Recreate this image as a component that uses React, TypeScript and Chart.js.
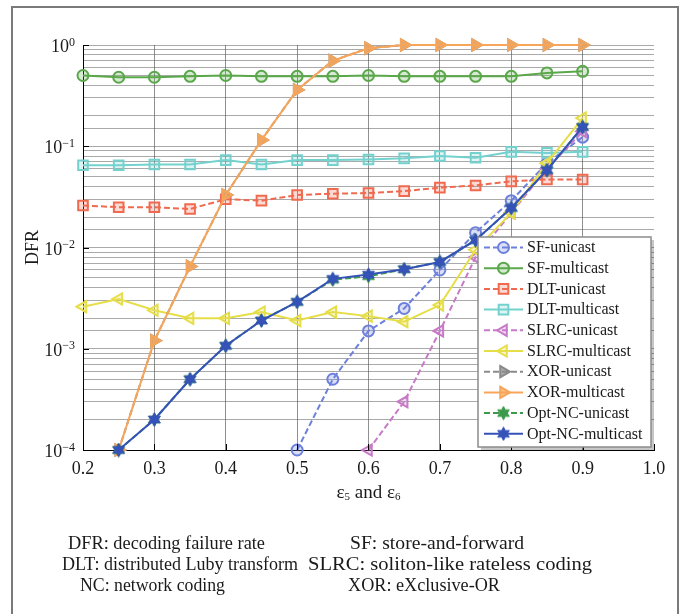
import React, { useEffect, useRef } from 'react';
import { Chart, registerables } from 'chart.js';
import { drawPoint } from 'chart.js/helpers';

Chart.register(...registerables);

// ---------- data ----------
const EPSILON = [0.2, 0.25, 0.3, 0.35, 0.4, 0.45, 0.5, 0.55, 0.6, 0.65, 0.7, 0.75, 0.8, 0.85, 0.9];
const SF_UNICAST = [null, null, null, null, null, null, 1e-4, 5e-4, 1.5e-3, 2.5e-3, 6e-3, 1.4e-2, 2.9e-2, 6.8e-2, 1.23e-1];
const SF_MULTICAST = [0.5, 0.48, 0.48, 0.49, 0.5, 0.49, 0.49, 0.49, 0.5, 0.49, 0.49, 0.49, 0.49, 0.53, 0.55];
const DLT_UNICAST = [0.026, 0.025, 0.025, 0.024, 0.03, 0.029, 0.033, 0.034, 0.0345, 0.036, 0.039, 0.041, 0.045, 0.047, 0.047];
const DLT_MULTICAST = [0.065, 0.065, 0.066, 0.066, 0.073, 0.066, 0.073, 0.073, 0.074, 0.076, 0.08, 0.077, 0.088, 0.086, 0.088];
const SLRC_UNICAST = [null, null, null, null, null, null, null, null, 1e-4, 3e-4, 1.5e-3, 8e-3, 0.022, 0.06, 0.14];
const SLRC_MULTICAST = [0.0026, 0.0031, 0.0024, 0.002, 0.002, 0.0023, 0.0019, 0.0023, 0.0021, 0.00185, 0.0027, 0.0095, 0.022, 0.068, 0.19];
const XOR_UNICAST = [null, 1e-4, 0.0012, 0.0065, 0.033, 0.115, 0.36, 0.7, 0.93, 1, 1, 1, 1, 1, 1];
const XOR_MULTICAST = [null, 1e-4, 0.0012, 0.0065, 0.033, 0.115, 0.36, 0.7, 0.93, 1, 1, 1, 1, 1, 1];
const OPT_NC_UNICAST = [null, 1e-4, 2e-4, 5e-4, 1.07e-3, 1.9e-3, 2.9e-3, 4.8e-3, 5.2e-3, 6.1e-3, 7.2e-3, 0.0118, 0.0246, 0.058, 0.155];
const OPT_NC_MULTICAST = [null, 1e-4, 2e-4, 5e-4, 1.07e-3, 1.9e-3, 2.9e-3, 4.9e-3, 5.4e-3, 6.1e-3, 7.2e-3, 0.0118, 0.0246, 0.058, 0.155];

const SERIES_NAMES = [
  'SF-unicast', 'SF-multicast', 'DLT-unicast', 'DLT-multicast', 'SLRC-unicast',
  'SLRC-multicast', 'XOR-unicast', 'XOR-multicast', 'Opt-NC-unicast', 'Opt-NC-multicast',
];
const SERIES_VALUES = [
  SF_UNICAST, SF_MULTICAST, DLT_UNICAST, DLT_MULTICAST, SLRC_UNICAST,
  SLRC_MULTICAST, XOR_UNICAST, XOR_MULTICAST, OPT_NC_UNICAST, OPT_NC_MULTICAST,
];

const X_TICKS = [0.2, 0.3, 0.4, 0.5, 0.6, 0.7, 0.8, 0.9, 1.0];
const Y_TICK_EXPONENTS = [0, -1, -2, -3, -4];
const Y_TITLE = 'DFR';
const X_TITLE_PARTS = [
  { t: 'ε', sub: false }, { t: '5', sub: true }, { t: ' and ', sub: false },
  { t: 'ε', sub: false }, { t: '6', sub: true },
];
const FOOTNOTES = [
  'DFR: decoding failure rate', 'SF: store-and-forward',
  'DLT: distributed Luby transform', 'SLRC: soliton-like rateless coding',
  'NC: network coding', 'XOR: eXclusive-OR',
];

// ---------- styles / layout ----------
const STYLES = [
  { color: '#6d80dc', dash: [6, 3], shape: 'circle', rot: 0 },
  { color: '#5aa84a', dash: [], shape: 'circle', rot: 0 },
  { color: '#f06a50', dash: [6, 3], shape: 'rect', rot: 0 },
  { color: '#74d2ce', dash: [], shape: 'rect', rot: 0 },
  { color: '#c77ac7', dash: [6, 3], shape: 'triangle', rot: -90 },
  { color: '#e6de48', dash: [], shape: 'triangle', rot: -90 },
  { color: '#8a8a8a', dash: [6, 3], shape: 'triangle', rot: 90 },
  { color: '#f7a559', dash: [], shape: 'triangle', rot: 90 },
  { color: '#3c9a4c', dash: [6, 3], shape: 'star', rot: 0 },
  { color: '#3552b8', dash: [], shape: 'star', rot: 0 },
];
const FOOT_POS = [
  { left: 68, top: 534, width: 197 }, { left: 350, top: 534, width: 174 },
  { left: 62, top: 555, width: 236 }, { left: 308, top: 555, width: 284 },
  { left: 80, top: 576, width: 145 }, { left: 348, top: 576, width: 152 },
];
const FONT = '"Liberation Serif", "DejaVu Serif", serif';

function hexA(hex: string, a: number) {
  const n = parseInt(hex.slice(1), 16);
  return `rgba(${(n >> 16) & 255},${(n >> 8) & 255},${n & 255},${a})`;
}

function makeStar(color: string, size = 15) {
  const c = document.createElement('canvas');
  c.width = size;
  c.height = size;
  const g = c.getContext('2d')!;
  const cx = size / 2, cy = size / 2, R = size / 2 - 0.8, r = R * 0.55;
  g.beginPath();
  for (let k = 0; k < 12; k++) {
    const a = -Math.PI / 2 + (k * Math.PI) / 6;
    const rad = k % 2 === 0 ? R : r;
    const px = cx + Math.cos(a) * rad, py = cy + Math.sin(a) * rad;
    if (k === 0) g.moveTo(px, py); else g.lineTo(px, py);
  }
  g.closePath();
  g.fillStyle = color;
  g.fill();
  g.lineWidth = 1;
  g.strokeStyle = color;
  g.stroke();
  return c;
}

function markerOpts(s: any, star: any) {
  if (s.shape === 'star') return { pointStyle: star, radius: 7, rotation: 0, borderWidth: 0 };
  const radius = s.shape === 'circle' ? 5.5 : s.shape === 'rect' ? 6.8 : 6.5;
  return { pointStyle: s.shape, radius, rotation: s.rot, borderWidth: 2 };
}

let measureCtx: CanvasRenderingContext2D | null = null;
function naturalWidth(text: string) {
  if (!measureCtx) measureCtx = document.createElement('canvas').getContext('2d');
  measureCtx!.font = `18px ${FONT}`;
  return measureCtx!.measureText(text).width;
}

export default function App() {
  const ref = useRef<HTMLCanvasElement | null>(null);

  useEffect(() => {
    const canvas = ref.current!;
    const stars = STYLES.map((s) => (s.shape === 'star' ? makeStar(s.color) : null));

    const datasets = SERIES_NAMES.map((name, i) => {
      const s = STYLES[i];
      const m = markerOpts(s, stars[i]);
      return {
        label: name,
        data: EPSILON.map((x, j) => ({ x, y: SERIES_VALUES[i][j] })),
        borderColor: s.color,
        backgroundColor: s.color,
        borderWidth: 2,
        borderDash: s.dash,
        pointStyle: m.pointStyle,
        pointRadius: m.radius,
        pointRotation: m.rotation,
        pointBorderWidth: m.borderWidth,
        pointBorderColor: s.color,
        pointBackgroundColor: s.shape === 'triangle' && s.rot === 90 ? hexA(s.color, 0.7) : hexA(s.color, 0.25),
        fill: false,
        tension: 0,
        spanGaps: false,
        clip: false,
        order: 20 - i,
      };
    });

    const overlay = {
      id: 'overlay',
      afterDraw(chart: any) {
        const { ctx, chartArea } = chart;
        const xs = chart.scales.x, ys = chart.scales.y;
        ctx.save();
        ctx.strokeStyle = '#000';
        ctx.lineWidth = 1;
        ctx.setLineDash([]);
        ctx.beginPath();
        X_TICKS.forEach((v) => {
          const px = Math.round(xs.getPixelForValue(v)) + 0.5;
          ctx.moveTo(px, chartArea.bottom);
          ctx.lineTo(px, chartArea.bottom - 6);
        });
        Y_TICK_EXPONENTS.forEach((e) => {
          const py = Math.round(ys.getPixelForValue(Math.pow(10, e))) + 0.5;
          ctx.moveTo(chartArea.left, py);
          ctx.lineTo(chartArea.left + 6, py);
        });
        ctx.stroke();

        ctx.fillStyle = '#1a1a1a';
        ctx.textAlign = 'left';
        ctx.textBaseline = 'alphabetic';
        Y_TICK_EXPONENTS.forEach((e) => {
          const py = ys.getPixelForValue(Math.pow(10, e));
          const exp = e === 0 ? '0' : '\u2212' + String(-e);
          ctx.font = `12px ${FONT}`;
          const ew = ctx.measureText(exp).width;
          ctx.font = `18px ${FONT}`;
          const bw = ctx.measureText('10').width;
          const right = chartArea.left - 8;
          ctx.fillText('10', right - ew - bw, py + 7);
          ctx.font = `12px ${FONT}`;
          ctx.fillText(exp, right - ew, py + 0.5);
        });

        ctx.save();
        ctx.translate(33, (chartArea.top + chartArea.bottom) / 2);
        ctx.rotate(-Math.PI / 2);
        ctx.font = `18px ${FONT}`;
        ctx.textAlign = 'center';
        ctx.textBaseline = 'middle';
        ctx.fillText(Y_TITLE, 0, 0);
        ctx.restore();

        const parts = X_TITLE_PARTS.map((p) => {
          ctx.font = p.sub ? `11px ${FONT}` : `19px ${FONT}`;
          return { ...p, w: ctx.measureText(p.t).width };
        });
        const total = parts.reduce((a, p) => a + p.w, 0);
        let cx = (chartArea.left + chartArea.right) / 2 - total / 2;
        const base = chartArea.bottom + 48;
        ctx.textAlign = 'left';
        ctx.textBaseline = 'alphabetic';
        parts.forEach((p) => {
          ctx.font = p.sub ? `11px ${FONT}` : `19px ${FONT}`;
          ctx.fillText(p.t, cx, p.sub ? base + 2 : base);
          cx += p.w;
        });

        const lx = 478, ly = 237, lw = 173, lh = 210;
        ctx.fillStyle = 'rgba(0,0,0,0.22)';
        ctx.fillRect(lx + 3, ly + 3, lw, lh);
        ctx.fillStyle = '#ffffff';
        ctx.fillRect(lx, ly, lw, lh);
        ctx.strokeStyle = '#8c8c8c';
        ctx.lineWidth = 1.5;
        ctx.strokeRect(lx, ly, lw, lh);
        SERIES_NAMES.forEach((name, i) => {
          const s = STYLES[i];
          const yy = ly + 10.5 + i * 20.7;
          ctx.strokeStyle = s.color;
          ctx.lineWidth = 2;
          ctx.setLineDash(s.dash);
          ctx.beginPath();
          ctx.moveTo(lx + 6, yy);
          ctx.lineTo(lx + 45, yy);
          ctx.stroke();
          ctx.setLineDash([]);
          const m = markerOpts(s, stars[i]);
          ctx.fillStyle = s.shape === 'triangle' && s.rot === 90 ? hexA(s.color, 0.7) : hexA(s.color, 0.25);
          ctx.strokeStyle = s.color;
          ctx.lineWidth = m.borderWidth;
          drawPoint(ctx, m as any, lx + 25.5, yy);
          ctx.fillStyle = '#1a1a1a';
          ctx.font = `16px ${FONT}`;
          ctx.textAlign = 'left';
          ctx.textBaseline = 'middle';
          ctx.fillText(name, lx + 49, yy + 0.5);
        });
        ctx.restore();
      },
    };

    const gridGray = 'rgba(85,85,85,0.5)';
    const chart = new Chart(canvas, {
      type: 'line',
      data: { datasets: datasets as any },
      plugins: [overlay],
      options: {
        animation: false,
        responsive: false,
        devicePixelRatio: 1,
        layout: { padding: { left: 0, top: 45, right: 25, bottom: 130 } },
        plugins: { legend: { display: false }, tooltip: { enabled: false } },
        scales: {
          x: {
            type: 'linear',
            min: 0.2,
            max: 1.0,
            afterFit: (s: any) => { s.height = 35; },
            afterBuildTicks: (s: any) => { s.ticks = X_TICKS.map((v) => ({ value: v })); },
            ticks: {
              stepSize: 0.1,
              maxRotation: 0,
              autoSkip: false,
              padding: 8,
              color: '#1a1a1a',
              font: { family: FONT, size: 18 },
              callback: (v: any) => Number(v).toFixed(1),
            },
            grid: {
              drawTicks: false,
              lineWidth: 1,
              color: (c: any) => {
                const v = c.tick ? c.tick.value : 0;
                return Math.abs(v - 0.2) < 1e-6 || Math.abs(v - 1) < 1e-6 ? 'rgba(0,0,0,0)' : 'rgba(70,70,70,0.6)';
              },
            },
            border: { color: '#000', width: 1 },
          },
          y: {
            type: 'logarithmic',
            min: 1e-4,
            max: 1,
            afterFit: (s: any) => { s.width = 83; },
            ticks: { display: false, autoSkip: false },
            grid: { drawTicks: false, lineWidth: 1, color: gridGray },
            border: { color: '#000', width: 1 },
          },
        },
      } as any,
    });
    return () => chart.destroy();
  }, []);

  return (
    <div style={{ position: 'absolute', left: 0, top: 0, width: 679, height: 615, background: '#fff', fontFamily: FONT }}>
      <div style={{ position: 'absolute', left: 11, top: 6, width: 664, height: 606, borderTop: '2px solid #7a7a7a', borderLeft: '2px solid #7a7a7a', borderRight: '2px solid #7a7a7a' }} />
      <canvas ref={ref} width={679} height={615} style={{ position: 'absolute', left: 0, top: 0, width: 679, height: 615 }} />
      {FOOTNOTES.map((t, i) => {
        const sx = FOOT_POS[i].width / naturalWidth(t);
        return (
          <div key={i} style={{ position: 'absolute', left: FOOT_POS[i].left, top: FOOT_POS[i].top, fontSize: 18, lineHeight: '18px', color: '#1a1a1a', whiteSpace: 'nowrap', transformOrigin: '0 0', transform: `scaleX(${sx})` }}>{t}</div>
        );
      })}
    </div>
  );
}
